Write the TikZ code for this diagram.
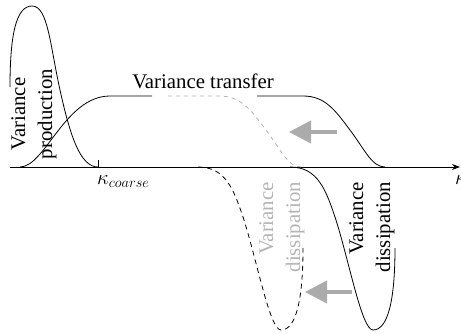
\documentclass[tikz,border=0pt]{standalone}
\usepackage{fontspec}
\setmainfont{Liberation Serif}
\usetikzlibrary{arrows.meta}
\definecolor{pale}{HTML}{B4B4B4}
\definecolor{shade}{HTML}{ABABAB}
\tikzset{
  lbl/.style={font=\fontsize{20.8}{27}\selectfont,inner sep=0pt},
  vlbl/.style={lbl,rotate=90},
  flux/.style={line width=4pt,draw=shade,-{Triangle[length=22pt,width=22pt]}},
  curve/.style={line width=0.8pt},
}
\begin{document}
\begin{tikzpicture}[x=1pt,y=-1pt,>=Stealth]
\useasboundingbox (0,0) rectangle (461,333);
\coordinate (o) at (10,167);
\coordinate (k) at (460,167);
\draw[line width=1pt,-{Stealth[length=8pt,width=6pt]}] (o) -- (k);
\draw[line width=0.8pt] (98,160) -- (98,167);
% production
\draw[curve] (10,87) .. controls (10,35) and (16,6) .. (32,6)
  .. controls (48,6) and (50,45) .. (60,90)
  .. controls (70,135) and (80,167) .. (98,167);
% transfer
\draw[curve] (20,167) .. controls (45,167) and (65,96) .. (110,96) -- (152,96);
\draw[curve] (257,96) -- (303,96) .. controls (325,96) and (335,110) .. (350,130)
  .. controls (365,150) and (372,167) .. (385,167);
\draw[curve,pale,dash pattern=on 4pt off 4pt] (168,96) -- (219,96)
  .. controls (241,96) and (251,110) .. (266,130)
  .. controls (281,150) and (288,167) .. (301,167);
% dissipation
\draw[curve] (290,167) .. controls (318,167) and (326,190) .. (336,220)
  .. controls (350,265) and (362,330) .. (373,330)
  .. controls (388,330) and (395,300) .. (395,248);
\draw[curve,dash pattern=on 5pt off 4pt] (198,167) .. controls (226,167) and (234,190) .. (244,220)
  .. controls (258,265) and (270,330) .. (281,330)
  .. controls (296,330) and (303,300) .. (303,248);
\coordinate (up tail) at (337,132);
\coordinate (up head) at (289,132);
\coordinate (low tail) at (352,292);
\coordinate (low head) at (305,292);
\draw[flux] (up tail) -- (up head);
\draw[flux] (low tail) -- (low head);
\node[vlbl,align=center] (prod) at (34,114) {Variance\\production};
\node[lbl,anchor=base] (trans) at (203,88) {Variance transfer};
\node[vlbl,align=right,anchor=east,text=pale] (dissold) at (282,182) {Variance\\dissipation};
\node[vlbl,align=right,anchor=east] (dissnew) at (372,182) {Variance\\dissipation};
\node[lbl,anchor=base west,font=\fontsize{22.5}{27}\selectfont] (kc) at (97,184) {$\kappa_{coarse}$};
\node[lbl,anchor=base west,font=\fontsize{22.5}{27}\selectfont] (kk) at (455,184) {$\kappa$};
\end{tikzpicture}
\end{document}
